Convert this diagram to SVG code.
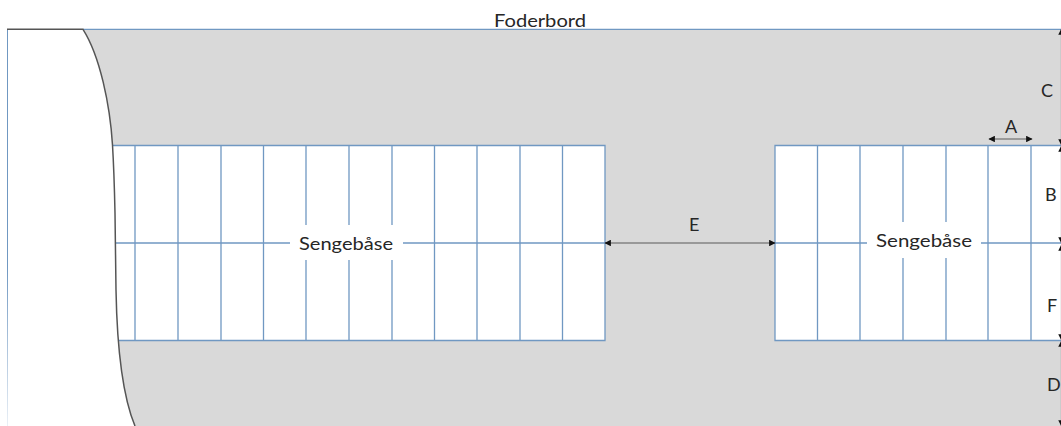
<svg xmlns="http://www.w3.org/2000/svg" width="1061" height="426" viewBox="0 0 1061 426">
<style>
text{font-family:Lato,"Open Sans","Liberation Sans",sans-serif;font-size:18px;fill:#262626}
.b{fill:none;stroke:#7098c2;stroke-width:1.3}
.a{fill:none;stroke:#5a5a5a;stroke-width:1.2;marker-start:url(#h);marker-end:url(#h)}
</style>
<defs>
<marker id="h" viewBox="0 0 10 10" refX="9" refY="5" markerWidth="6.5" markerHeight="6.5" markerUnits="userSpaceOnUse" orient="auto-start-reverse"><path d="M0 0L10 5L0 10Z" fill="#111"/></marker>
<linearGradient id="f" gradientUnits="userSpaceOnUse" x1="0" y1="29" x2="0" y2="426"><stop offset="0" stop-color="#7098c2"/><stop offset=".6" stop-color="#7098c2"/><stop offset="1" stop-color="#7098c2" stop-opacity=".15"/></linearGradient>
</defs>
<g id="floor">
<path d="M83 29H1061V426H135C122 395 117 345 116 290L115 213C114.500 190 114 170 112.500 145C110 105 100 56 83 29Z" fill="#d9d9d9"/>
<path d="M7.500 29V426" fill="none" stroke="url(#f)" stroke-width="1"/>
<path class="b" d="M83 29.300H1061"/>
</g>
<g id="stalls-left">
<rect x="113" y="145.500" width="492" height="195" fill="#fff"/>
<path class="b" d="M112 145.500H605V340.500H118M115 243H290M403 243H605M135 145.500V340.500M178 145.500V340.500M221 145.500V340.500M263.500 145.500V340.500M306 145.500V225M306 260V340.500M349 145.500V225M349 260V340.500M392 145.500V225M392 260V340.500M434.500 145.500V340.500M477 145.500V340.500M520 145.500V340.500M562.500 145.500V340.500"/>
<text x="299" y="249.500" textLength="94" lengthAdjust="spacingAndGlyphs">Sengebåse</text>
</g>
<g id="stalls-right">
<rect x="775" y="145.500" width="286" height="195" fill="#fff"/>
<path class="b" d="M1061 145.500H775V340.500H1061M775 243H867M981 243H1061M817.500 145.500V340.500M860 145.500V340.500M903 145.500V222M903 258V340.500M946 145.500V222M946 258V340.500M988 145.500V340.500M1031 145.500V340.500"/>
<text x="876" y="247" textLength="96" lengthAdjust="spacingAndGlyphs">Sengebåse</text>
</g>
<g id="edge">
<path d="M7 29.300H83C100 56 110 105 112.500 145C114 170 114.500 190 115 213L116 290C117 345 122 395 135 426" fill="none" stroke="#555" stroke-width="1.500"/>
</g>
<g id="connectors">
<path class="a" d="M1061.500 29V145"/>
<path class="a" d="M1061.500 146V243"/>
<path class="a" d="M1061.500 245V340"/>
<path class="a" d="M1061.500 341V426"/>
<path class="a" d="M989 139H1032"/>
<path class="a" d="M605 243H775"/>
</g>
<g id="labels">
<text x="494" y="27" textLength="92" lengthAdjust="spacingAndGlyphs">Foderbord</text>
<text x="1041" y="97">C</text>
<text x="1005" y="133">A</text>
<text x="1045" y="201">B</text>
<text x="1047" y="312">F</text>
<text x="1047" y="391">D</text>
<text x="689" y="231">E</text>
</g>
</svg>
